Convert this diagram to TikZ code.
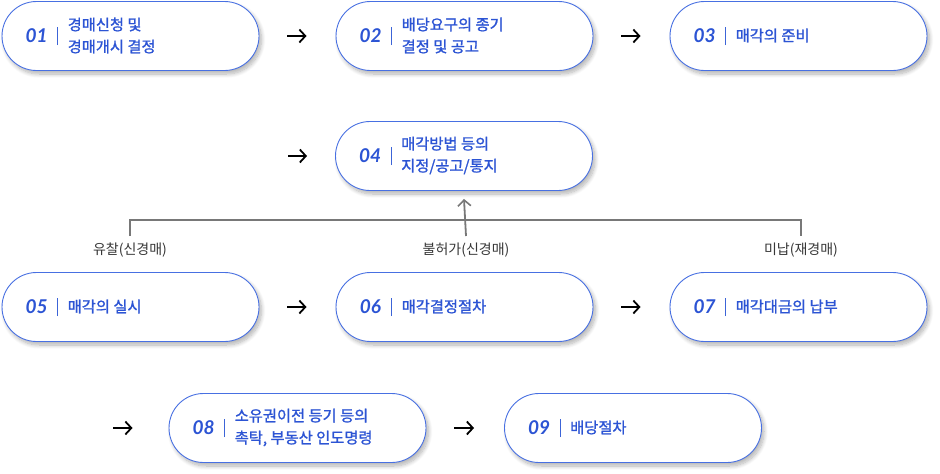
\documentclass[tikz,border=0pt]{standalone}
\usepackage{fontspec}
\setmainfont{Noto Sans CJK KR}[FakeBold=1.2]
\newfontfamily\labfont{Noto Sans CJK KR}
\newfontfamily\numfont{Lato}
\usetikzlibrary{shadows.blur,arrows.meta}
\definecolor{boxblue}{RGB}{72,112,226}
\definecolor{txtblue}{RGB}{44,84,212}
\definecolor{sepblue}{RGB}{60,100,215}
\definecolor{conngray}{RGB}{120,120,120}
\definecolor{capgray}{RGB}{55,55,55}
\begin{document}
\begin{tikzpicture}[x=1pt,y=-1pt,
  box/.style={draw=boxblue, line width=0.9pt, fill=white, rounded corners=34.5pt,
    minimum width=257pt, minimum height=69pt, inner sep=0pt,
    blur shadow={shadow xshift=2.5pt, shadow yshift=-3.5pt, shadow blur steps=10, shadow opacity=30, shadow blur radius=4pt}},
  num/.style={font=\numfont\bfseries\itshape\fontsize{19}{19}\selectfont, text=txtblue, inner sep=0pt},
  lbl/.style={font=\fontsize{15.3}{22}\selectfont, text=txtblue, align=left, anchor=west, inner sep=0pt},
  brlabel/.style={font=\labfont\fontsize{14}{16}\selectfont, text=capgray, inner xsep=1pt, inner ysep=6.5pt, anchor=north},
  sepline/.style={draw=sepblue, line width=0.8pt},
  go/.style={-{Straight Barb[length=6pt,width=13pt,line width=1.8pt]}, line width=1.8pt, black},
  conn/.style={draw=conngray, line width=1.8pt}
]
\useasboundingbox (0,0) rectangle (940,474);

% boxes
\node[box] (b1) at (130.5,36) {};
\node[box] (b2) at (464.5,36) {};
\node[box] (b3) at (798.5,36) {};
\node[box] (b4) at (464,156) {};
\node[box] (b5) at (130.5,307) {};
\node[box] (b6) at (464.5,307) {};
\node[box] (b7) at (798.5,307) {};
\node[box] (b8) at (297.5,428) {};
\node[box] (b9) at (633,428) {};

% numbers, separators, texts
\foreach \b/\n/\t in {b1/01/{경매신청 및\\경매개시 결정}, b2/02/{배당요구의 종기\\결정 및 공고}, b3/03/{매각의 준비},
  b4/04/{매각방법 등의\\지정/공고/통지}, b5/05/{매각의 실시}, b6/06/{매각결정절차}, b7/07/{매각대금의 납부},
  b8/08/{소유권이전 등기 등의\\촉탁, 부동산 인도명령}, b9/09/{배당절차}}{
  \node[num] (n\b) at ([xshift=35pt]\b.west) {\n};
  \draw[sepline] ([xshift=56pt,yshift=-9pt]\b.west) -- ([xshift=56pt,yshift=9pt]\b.west);
  \node[lbl] (t\b) at ([xshift=66pt,yshift=0.5pt]\b.west) {\t};
}

% arrows between boxes
\draw[go] ([xshift=28pt]b1.east) -- ([xshift=-29pt]b2.west);
\draw[go] ([xshift=28pt]b2.east) -- ([xshift=-29pt]b3.west);
\coordinate (a4) at (288,156);
\draw[go] (a4) -- ([xshift=-28pt]b4.west);
\draw[go] ([xshift=28pt]b5.east) -- ([xshift=-29pt]b6.west);
\draw[go] ([xshift=28pt]b6.east) -- ([xshift=-29pt]b7.west);
\coordinate (a8) at (113,428);
\draw[go] (a8) -- ([xshift=-36pt]b8.west);
\draw[go] ([xshift=28pt]b8.east) -- ([xshift=-30pt]b9.west);

% branch labels
\node[brlabel] (l5) at (130,236) {유찰(신경매)};
\node[brlabel] (l6) at (466,236) {불허가(신경매)};
\node[brlabel] (l7) at (801,236) {미납(재경매)};

\draw[conn] (l5.north) -- ++(0,-16) -| (l7.north);
\draw[conn, -{Straight Barb[length=6pt,width=13pt,line width=1.6pt]}] (l6.north) -- ([yshift=-8pt]b4.south);
\end{tikzpicture}
\end{document}
